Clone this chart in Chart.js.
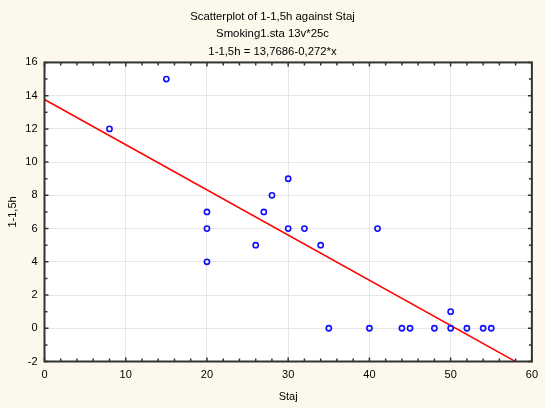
<!DOCTYPE html>
<html>
<head>
<meta charset="utf-8">
<script src="https://cdn.jsdelivr.net/npm/chart.js@4/dist/chart.umd.min.js"></script>
<style>
html,body{margin:0;padding:0;background:#fdf8ec;}
#wrap{width:545px;height:408px;position:relative;}
</style>
</head>
<body>
<div id="wrap"><canvas id="c" width="545" height="408"></canvas></div>
<script>
// Data
const titleLines = ["Scatterplot of 1-1,5h against Staj", "Smoking1.sta 13v*25c", "1-1,5h = 13,7686-0,272*x"];
const xLabel = "Staj";
const yLabel = "1-1,5h";
const staj = [8, 15, 20, 20, 20, 26, 27, 28, 30, 30, 32, 34, 35, 40, 41, 44, 45, 48, 50, 50, 52, 54, 55];
const hours = [12, 15, 7, 6, 4, 5, 7, 8, 9, 6, 6, 5, 0, 0, 6, 0, 0, 0, 1, 0, 0, 0, 0];
const intercept = 13.7686;
const slope = -0.272;
const fitX = [0, 60];
const xTicks = [0, 10, 20, 30, 40, 50, 60];
const yTicks = [-2, 0, 2, 4, 6, 8, 10, 12, 14, 16];

const points = staj.map((x, i) => ({x: x, y: hours[i]}));
const fitLine = fitX.map(x => ({x: x, y: intercept + slope * x}));

const FONT = "'Liberation Sans', Arial, sans-serif";

const framePlugin = {
  id: 'frame',
  beforeDraw(chart) {
    const ctx = chart.ctx, a = chart.chartArea;
    ctx.save();
    ctx.fillStyle = '#fdf8ec';
    ctx.fillRect(0, 0, chart.width, chart.height);
    ctx.fillStyle = '#ffffff';
    ctx.fillRect(a.left, a.top, a.right - a.left, a.bottom - a.top);
    ctx.restore();
  },
  afterDatasetsDraw(chart) {
    const ctx = chart.ctx, a = chart.chartArea;
    const xs = chart.scales.x, ys = chart.scales.y;
    ctx.save();
    ctx.strokeStyle = '#333333';
    ctx.lineWidth = 1.5;
    ctx.beginPath();
    for (let v = xs.min; v <= xs.max + 1e-9; v += 2) {
      const px = xs.getPixelForValue(v);
      const len = (Math.round(v) % 10 === 0) ? 4 : 3;
      ctx.moveTo(px, a.bottom); ctx.lineTo(px, a.bottom - len);
      ctx.moveTo(px, a.top); ctx.lineTo(px, a.top + len);
    }
    for (let v = ys.min; v <= ys.max + 1e-9; v += 1) {
      const py = ys.getPixelForValue(v);
      const len = (Math.round(v) % 2 === 0) ? 4 : 3;
      ctx.moveTo(a.left, py); ctx.lineTo(a.left + len, py);
      ctx.moveTo(a.right, py); ctx.lineTo(a.right - len, py);
    }
    ctx.stroke();
    ctx.lineWidth = 2;
    ctx.strokeRect(a.left, a.top, a.right - a.left, a.bottom - a.top);
    ctx.restore();
  }
};

new Chart(document.getElementById('c'), {
  type: 'scatter',
  data: {
    datasets: [
      {
        label: 'fit',
        type: 'line',
        data: fitLine,
        borderColor: '#ff0000',
        borderWidth: 1.5,
        pointRadius: 0,
        fill: false,
        order: 2
      },
      {
        label: yLabel,
        data: points,
        pointStyle: 'circle',
        pointRadius: 2.6,
        borderColor: '#1010ff',
        backgroundColor: 'rgba(0,0,0,0)',
        borderWidth: 1.6,
        order: 1
      }
    ]
  },
  options: {
    responsive: false,
    animation: false,
    devicePixelRatio: 1,
    layout: {padding: {top: 0, right: 6, bottom: 0, left: 6}},
    plugins: {
      legend: {display: false},
      tooltip: {enabled: false},
      title: {
        display: true,
        text: titleLines,
        color: '#000000',
        font: {family: FONT, size: 11.35, weight: 'normal', lineHeight: 1.54},
        padding: {top: 8, bottom: 2}
      }
    },
    scales: {
      x: {
        type: 'linear',
        min: 0, max: 60,
        afterBuildTicks: s => { s.ticks = xTicks.map(v => ({value: v})); },
        afterFit: s => { s.height = 46.5; },
        ticks: {color: '#000000', font: {family: FONT, size: 11}, padding: 7, maxRotation: 0},
        grid: {color: '#e6e6e6', lineWidth: 1, drawTicks: false},
        border: {display: false},
        title: {display: true, text: xLabel, color: '#000000', font: {family: FONT, size: 11}, padding: {top: 0, bottom: 4}}
      },
      y: {
        type: 'linear',
        min: -2, max: 16,
        afterBuildTicks: s => { s.ticks = yTicks.map(v => ({value: v})); },
        afterFit: s => { s.width = 38.5; },
        ticks: {color: '#000000', font: {family: FONT, size: 11}, padding: 7},
        grid: {color: '#e6e6e6', lineWidth: 1, drawTicks: false},
        border: {display: false},
        title: {display: true, text: yLabel, color: '#000000', font: {family: FONT, size: 11}, padding: {top: 0, bottom: 0}}
      }
    }
  },
  plugins: [framePlugin]
});
</script>
</body>
</html>
